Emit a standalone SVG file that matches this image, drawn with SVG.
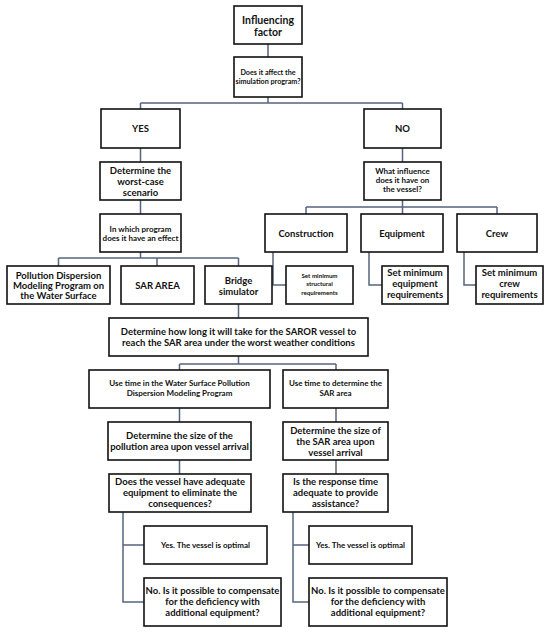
<svg xmlns="http://www.w3.org/2000/svg" width="550" height="632" viewBox="0 0 550 632">
<style>
.b{fill:#fff;stroke:#111;stroke-width:1.6}
.c{fill:none;stroke:#56657e;stroke-width:1.5}
text{font-family:Lato,"Liberation Sans",sans-serif;font-weight:bold;fill:#111;text-anchor:middle}
.f10{font-size:10.5px}.f9{font-size:9.5px}.f8{font-size:8px}.f7{font-size:7.2px}.f6{font-size:6.2px}
</style>
<rect width="550" height="632" fill="#fff"/>
<g id="connectors">
<path class="c" d="M268 44V57M268 97V103M140.5 103H402.5M140.5 103V109M402.5 103V109"/>
<path class="c" d="M140.5 148V162M140.5 200V214M140.5 252V258M58.5 258H238.5M58.5 258V266M157 258V266M238.5 258V266"/>
<path class="c" d="M402.5 148V162M402.5 200V207M306 207H497M306 207V214M402.5 207V214M497 207V214"/>
<path class="c" d="M273 252V285H286M369 252V285H382M464 252V285H476"/>
<path class="c" d="M238.5 304V318M238.5 356V364M179.5 364H336M179.5 364V370M336 364V370"/>
<path class="c" d="M179.5 408V422M179.5 460V474M336 408V422M336 460V474"/>
<path class="c" d="M123 512V602H144M123 545H144M293 512V602H309M293 545H309"/>
</g>
<g id="n-influencing"><rect class="b" x="234" y="6" width="68" height="38"/><text class="f10" x="268" y="24">Influencing</text><text class="f10" x="268" y="35.5">factor</text></g>
<g id="n-affect"><rect class="b" x="234" y="57" width="68" height="40"/><text class="f7" x="268" y="75">Does it affect the</text><text class="f7" x="268" y="84">simulation program?</text></g>
<g id="n-yes"><rect class="b" x="101" y="109" width="79" height="39"/><text class="f9" x="140.5" y="131.5">YES</text></g>
<g id="n-no"><rect class="b" x="364" y="109" width="77" height="39"/><text class="f9" x="402.5" y="131.5">NO</text></g>
<g id="n-worst"><rect class="b" x="100" y="162" width="81" height="38"/><text class="f9" x="140.5" y="173.5">Determine the</text><text class="f9" x="140.5" y="185">worst-case</text><text class="f9" x="140.5" y="196">scenario</text></g>
<g id="n-influence"><rect class="b" x="364" y="162" width="77" height="38"/><text class="f8" x="402.5" y="173.5">What influence</text><text class="f8" x="402.5" y="182.5">does it have on</text><text class="f8" x="402.5" y="191.5">the vessel?</text></g>
<g id="n-which"><rect class="b" x="100" y="214" width="81" height="38"/><text class="f8" x="140.5" y="231.5">In which program</text><text class="f8" x="140.5" y="240.5">does it have an effect</text></g>
<g id="n-pollution"><rect class="b" x="7" y="266" width="103" height="38"/><text class="f9" x="58.5" y="278.5">Pollution Dispersion</text><text class="f9" x="58.5" y="288.5">Modeling Program on</text><text class="f9" x="58.5" y="298.5">the Water Surface</text></g>
<g id="n-sararea"><rect class="b" x="121" y="266" width="73" height="38"/><text class="f9" x="157.5" y="288.5">SAR AREA</text></g>
<g id="n-bridge"><rect class="b" x="205" y="266" width="67" height="38"/><text class="f9" x="238.5" y="283.5">Bridge</text><text class="f9" x="238.5" y="294.5">simulator</text></g>
<g id="n-construction"><rect class="b" x="265" y="214" width="82" height="38"/><text class="f9" x="306" y="236.5">Construction</text></g>
<g id="n-equipment"><rect class="b" x="361" y="214" width="82" height="38"/><text class="f9" x="402" y="236.5">Equipment</text></g>
<g id="n-crew"><rect class="b" x="457" y="214" width="80" height="38"/><text class="f9" x="497" y="236.5">Crew</text></g>
<g id="n-setstruct"><rect class="b" x="286" y="266" width="67" height="38"/><text class="f6" x="319.5" y="277.5">Set minimum</text><text class="f6" x="319.5" y="286">structural</text><text class="f6" x="319.5" y="294.5">requirements</text></g>
<g id="n-setequip"><rect class="b" x="382" y="266" width="66" height="38"/><text class="f9" x="415" y="275.5">Set minimum</text><text class="f9" x="415" y="286.5">equipment</text><text class="f9" x="415" y="298">requirements</text></g>
<g id="n-setcrew"><rect class="b" x="476" y="266" width="67" height="38"/><text class="f9" x="509.5" y="275.5">Set minimum</text><text class="f9" x="509.5" y="286.5">crew</text><text class="f9" x="509.5" y="298">requirements</text></g>
<g id="n-howlong"><rect class="b" x="109" y="318" width="259" height="38"/><text class="f9" x="238.5" y="334.5">Determine how long it will take for the SAROR vessel to</text><text class="f9" x="238.5" y="345.5">reach the SAR area under the worst weather conditions</text></g>
<g id="n-usewater"><rect class="b" x="89" y="370" width="181" height="38"/><text class="f8" x="179.5" y="385.5">Use time in the Water Surface Pollution</text><text class="f8" x="179.5" y="395.5">Dispersion Modeling Program</text></g>
<g id="n-usesar"><rect class="b" x="283" y="370" width="105" height="38"/><text class="f8" x="335.5" y="385.5">Use time to determine the</text><text class="f8" x="335.5" y="395.5">SAR area</text></g>
<g id="n-sizepoll"><rect class="b" x="108" y="422" width="143" height="38"/><text class="f9" x="179.5" y="438.5">Determine the size of the</text><text class="f9" x="179.5" y="449.5">pollution area upon vessel arrival</text></g>
<g id="n-sizesar"><rect class="b" x="283" y="422" width="105" height="38"/><text class="f9" x="335.5" y="433.5">Determine the size of</text><text class="f9" x="335.5" y="444.5">the SAR area upon</text><text class="f9" x="335.5" y="455.5">vessel arrival</text></g>
<g id="n-adequate"><rect class="b" x="109" y="474" width="142" height="38"/><text class="f9" x="180" y="485">Does the vessel have adequate</text><text class="f9" x="180" y="496">equipment to eliminate the</text><text class="f9" x="180" y="507">consequences?</text></g>
<g id="n-response"><rect class="b" x="283" y="474" width="105" height="38"/><text class="f9" x="335.5" y="485">Is the response time</text><text class="f9" x="335.5" y="496">adequate to provide</text><text class="f9" x="335.5" y="507">assistance?</text></g>
<g id="n-yes1"><rect class="b" x="144" y="526" width="123" height="38"/><text class="f8" x="205.5" y="548">Yes. The vessel is optimal</text></g>
<g id="n-no1"><rect class="b" x="144" y="578" width="137" height="48"/><text class="f9" x="212.5" y="593.5">No. Is it possible to compensate</text><text class="f9" x="212.5" y="604.5">for the deficiency with</text><text class="f9" x="212.5" y="615.5">additional equipment?</text></g>
<g id="n-yes2"><rect class="b" x="309" y="526" width="103" height="38"/><text class="f8" x="360.5" y="548">Yes. The vessel is optimal</text></g>
<g id="n-no2"><rect class="b" x="309" y="578" width="138" height="48"/><text class="f9" x="378" y="593.5">No. Is it possible to compensate</text><text class="f9" x="378" y="604.5">for the deficiency with</text><text class="f9" x="378" y="615.5">additional equipment?</text></g>
</svg>
